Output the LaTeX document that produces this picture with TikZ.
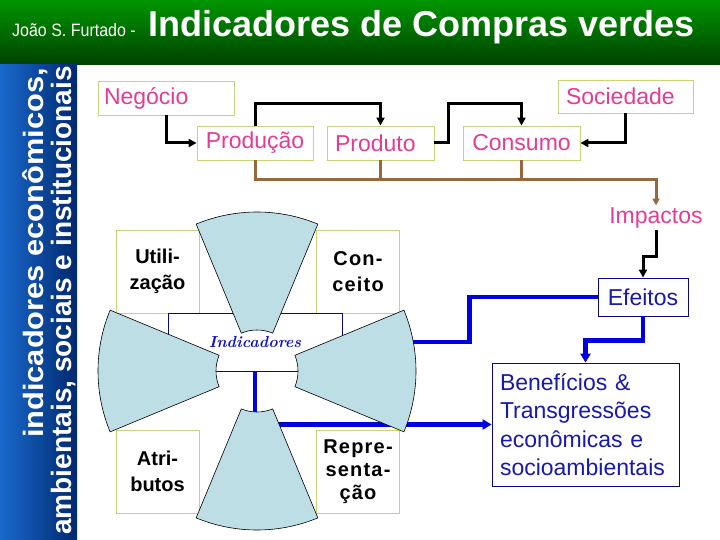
\documentclass[tikz,border=0pt]{standalone}
\usepackage{fontspec}
\newfontfamily\arial{Liberation Sans}
\newfontfamily\arialsp[LetterSpace=6]{Liberation Sans}
\usetikzlibrary{arrows.meta,calc}
\definecolor{pinktxt}{RGB}{228,60,150}
\definecolor{oliveb}{RGB}{200,210,120}
\definecolor{brownl}{RGB}{150,105,60}
\definecolor{navy}{RGB}{10,10,120}
\definecolor{bluetxt}{RGB}{25,25,170}
\definecolor{bluel}{RGB}{0,0,225}
\definecolor{indblue}{RGB}{20,20,190}
\definecolor{segfill}{RGB}{188,222,228}
\definecolor{gtop}{RGB}{0,150,0}
\definecolor{gbot}{RGB}{0,65,0}
\definecolor{bleft}{RGB}{25,105,205}
\definecolor{bright}{RGB}{0,40,110}
\tikzset{
  topbox/.style={draw=oliveb, line width=0.8pt, fill=white, minimum height=34pt, inner sep=0pt,
    font=\arial\fontsize{23}{27}\selectfont, text=pinktxt},
  sqbox/.style={draw=oliveb, line width=0.8pt, fill=white, minimum width=83pt, minimum height=83pt,
    inner sep=0pt, align=center, font=\arial\bfseries\fontsize{20}{26}\selectfont},
  blk/.style={line width=3pt, black, -{Triangle[length=8pt,width=8pt]}},
  brn/.style={line width=3pt, brownl},
  bl/.style={line width=4.5pt, bluel},
  blarrow/.style={line width=4.5pt, bluel, -{Triangle[length=9pt,width=10pt]}},
  seg/.style={fill=segfill, draw=black, line width=0.6pt},
  whitetxt/.style={text=white, inner sep=0pt}
}
\begin{document}
\begin{tikzpicture}[x=1pt,y=1pt]
\useasboundingbox (0,0) rectangle (720,-540);
% backgrounds
\shade[top color=gtop, bottom color=gbot] (0,0) rectangle (720,-65);
\shade[left color=bleft, right color=bright] (0,-65) rectangle (77,-540);
% header texts
\node[whitetxt, anchor=base west, font=\arial\fontsize{16}{20}\selectfont] (auth) at (12,-37) {\scalebox{1}[1.12]{João S. Furtado -}};
\node[whitetxt, anchor=base west, font=\arial\bfseries\fontsize{36}{44}\selectfont] (title) at (148,-37) {Indicadores de Compras verdes};
\node[whitetxt, rotate=90, anchor=base east, font=\arial\bfseries\fontsize{28}{30}\selectfont] (side1) at (43,-68) {\scalebox{1.1}[1]{indicadores econômicos,}};
\node[whitetxt, rotate=90, anchor=base east, font=\arial\bfseries\fontsize{28}{30}\selectfont] (side2) at (71,-66) {ambientais, sociais e institucionais};
% top boxes
\node[topbox, text width=124pt, inner xsep=6pt, align=left] (neg) at (166,-98) {Negócio};
\node[topbox, minimum height=33pt, text width=119pt, inner xsep=8pt, align=left] (soc) at (625.5,-96.5) {Sociedade};
\node[topbox, minimum width=116pt] (prod) at (255,-143) {Produção};
\node[topbox, text width=91pt, inner xsep=8pt, align=left] (prodto) at (380.5,-143) {Produto};
\node[topbox, minimum width=117pt] (cons) at (521.5,-143) {Consumo};
% black connectors
\draw[blk] (neg.south) |- (prod.west);
\draw[blk] (prod.north) -- ++(0,22) -| (prodto.north);
\draw[blk] (prodto.east) -| ($(prodto.east)+(14,39)$) -| (cons.north);
\draw[blk] (soc.south) |- (cons.east);
% brown connectors
\coordinate (bend) at (656,-180);
\node[text=pinktxt, inner sep=2pt, font=\arial\fontsize{23}{27}\selectfont] (imp) at (656,-218) {Impactos};
\draw[brn, -{Triangle[length=7pt,width=7pt]}] (prod.south) |- (bend) -- (imp.north);
\draw[brn] (prodto.south) -- (prodto.south |- bend);
\draw[brn] (cons.south) -- (cons.south |- bend);
% Efeitos and Beneficios
\node[draw=navy, line width=0.8pt, fill=white, minimum width=90pt, minimum height=38pt, inner sep=0pt,
  text=bluetxt, font=\arial\fontsize{23}{27}\selectfont] (ef) at (643,-297) {Efeitos};
\draw[blk] (imp.south) -- ++(0,-26) -| (ef.north);
\node[draw=navy, line width=0.8pt, fill=white, text width=171pt, inner xsep=8pt, inner ysep=0pt,
  minimum height=123pt, align=left, text=bluetxt, font=\arial\fontsize{23}{28.5}\selectfont] (ben)
  at (585.5,-424.5) {Benefícios \&\\Transgressões\\econômicas e\\socioambientais};
\draw[blarrow] (ef.south) -- ++(0,-24) -| (ben.north);
% wheel squares
\coordinate (wc) at (257,-371);
\node[sqbox] (util) at (157.5,-271.5) {Utili-\\zação};
\node[sqbox, font=\arialsp\bfseries\fontsize{20}{26}\selectfont] (conc) at (358,-271.5) {Con-\\ceito};
\node[sqbox] (atri) at (157.5,-471.5) {Atri-\\butos};
\node[sqbox, font=\arialsp\bfseries\fontsize{20}{23}\selectfont] (rep) at (358,-471.5) {Repre-\\senta-\\ção};
\node[draw=navy, line width=0.8pt, minimum width=174pt, minimum height=58pt, inner sep=0pt,
  text=indblue, font=\bfseries\itshape\fontsize{16}{18}\selectfont] (ind) at (255,-342) {Indicadores};
% blue connectors under the wheel
\coordinate (wr) at (405,-342);
\coordinate (bs) at (276,-424.5);
\coordinate (bsin) at (255,-416);
\draw[bl] (ef.west) -- ++(-128,0) |- (wr);
\draw[bl] (ind.south) -- (bsin);
\draw[blarrow] (bs) -- (ben.west);
% wheel segments
\foreach \a in {0,90,180,270} {
  \filldraw[seg] ($(wc)+({\a-22.5}:41)$) -- ($(wc)+({\a-22.5}:159)$)
    arc[start angle={\a-22.5}, end angle={\a+22.5}, radius=159]
    -- ($(wc)+({\a+22.5}:41)$)
    arc[start angle={\a+22.5}, end angle={\a-22.5}, radius=41] -- cycle;
}
\end{tikzpicture}
\end{document}
